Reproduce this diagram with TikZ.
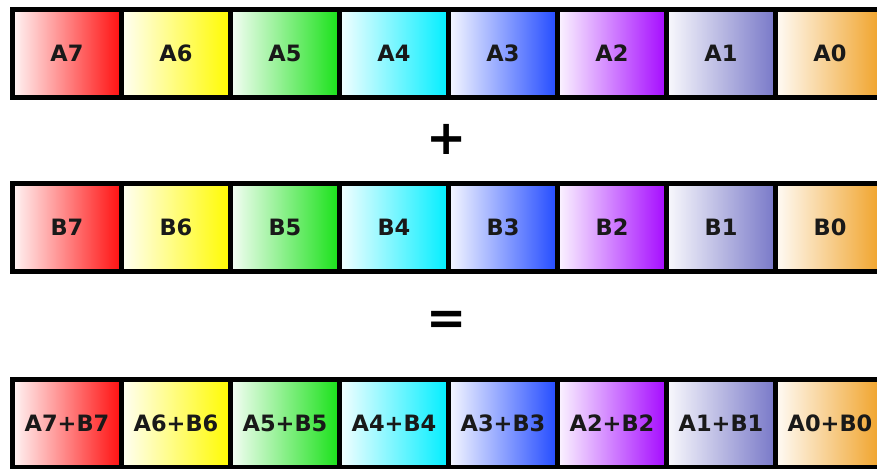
\documentclass[tikz,border=0pt]{standalone}
\usepackage{fontspec}
\setmainfont{DejaVu Sans}
\definecolor{cR}{RGB}{255,15,15}
\definecolor{cY}{RGB}{255,250,0}
\definecolor{cG}{RGB}{25,225,25}
\definecolor{cC}{RGB}{0,238,255}
\definecolor{cB}{RGB}{35,75,255}
\definecolor{cP}{RGB}{165,10,255}
\definecolor{cL}{RGB}{120,120,200}
\definecolor{cO}{RGB}{240,160,35}
\tikzset{
  cell/.style={draw=black, line width=5.5pt, minimum width=109pt, minimum height=88pt,
    inner sep=0pt, font=\fontsize{22.5}{26}\selectfont\bfseries, text=black!90,
    left color=#1!4!white, right color=#1},
  opsign/.style={inner sep=0pt, font=\fontsize{48}{54}\selectfont\bfseries, text=black}
}
\begin{document}
\begin{tikzpicture}[x=1pt,y=-1pt]
\useasboundingbox (0,0) rectangle (877,468);
\fill[white] (0,0) rectangle (877,468);
\foreach \n/\c [count=\i from 0] in {7/cR,6/cY,5/cG,4/cC,3/cB,2/cP,1/cL,0/cO}{
  \node[cell=\c] (a\n) at (67+109*\i,53.5) {A\n};
  \node[cell=\c] (b\n) at (67+109*\i,227.5) {B\n};
  \node[cell=\c] (s\n) at (67+109*\i,423.5) {A\n+B\n};
}
\node[opsign] (plus) at (447,139) {+};
\node[opsign] (eq) at (447,323) {=};
\end{tikzpicture}
\end{document}
